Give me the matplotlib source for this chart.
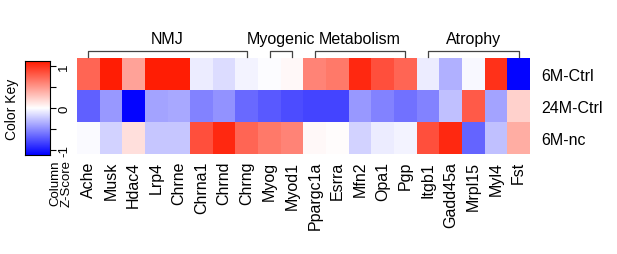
import numpy as np
import matplotlib
matplotlib.use("Agg")
import matplotlib.pyplot as plt
from matplotlib.colors import LinearSegmentedColormap, Normalize
from matplotlib.transforms import blended_transform_factory

plt.rcParams['font.family'] = ['Liberation Sans', 'DejaVu Sans']

# dados
genes = ["Ache", "Musk", "Hdac4", "Lrp4", "Chrne", "Chrna1", "Chrnd", "Chrng",
         "Myog", "Myod1", "Ppargc1a", "Esrra", "Mfn2", "Opa1", "Pgp",
         "Itgb1", "Gadd45a", "Mrpl15", "Myl4", "Fst"]
samples = ["6M-Ctrl", "24M-Ctrl", "6M-nc"]

z_6m_ctrl = [0.75, 1.1, 0.45, 1.1, 1.1, -0.08, -0.15, -0.05, -0.01, 0.03,
             0.6, 0.65, 1.05, 0.85, 0.75, -0.08, -0.35, -0.03, 1.0, -1.1]
z_24m_ctrl = [-0.7, -0.45, -1.1, -0.4, -0.38, -0.55, -0.48, -0.65, -0.72, -0.78,
              -0.82, -0.82, -0.45, -0.55, -0.62, -0.55, -0.28, 0.8, -0.4, 0.22]
z_6m_nc = [-0.02, -0.2, 0.15, -0.25, -0.25, 0.85, 1.05, 0.75, 0.65, 0.6,
           0.03, 0.01, -0.2, -0.08, -0.05, 0.85, 1.05, -0.68, -0.28, 0.4]

groups = [("NMJ", 0, 7), ("Myogenic", 8, 9), ("Metabolism", 10, 14), ("Atrophy", 15, 19)]

data = np.array([z_6m_ctrl, z_24m_ctrl, z_6m_nc])

cmap = LinearSegmentedColormap.from_list("bwr2", ["#0000ff", "#ffffff", "#ff1a00"])
norm = Normalize(vmin=-1.12, vmax=1.12)

W, H = 617, 255
fig = plt.figure(figsize=(W / 100, H / 100), dpi=100)

# heatmap
ax = fig.add_axes([77 / W, (H - 155) / H, (530 - 77) / W, 96 / H])
ax.imshow(data, cmap=cmap, norm=norm, aspect="auto")
ax.set_xticks(range(len(genes)))
ax.set_xticklabels(genes, rotation=90, fontsize=11.5)
ax.set_yticks(range(len(samples)))
ax.set_yticklabels(samples, fontsize=11.5)
ax.yaxis.tick_right()
ax.tick_params(length=0, pad=5)
ax.tick_params(axis="y", pad=8)
for s in ax.spines.values():
    s.set_visible(False)

# colchetes dos grupos
tr = blended_transform_factory(ax.transData, ax.transAxes)
for name, a, b in groups:
    ax.plot([a, a, b, b], [1.01, 1.073, 1.073, 1.01], color="#444444", lw=0.9,
            transform=tr, clip_on=False)
    ax.text((a + b) / 2, 1.2, name, transform=tr, ha="center", va="center", fontsize=11.5)

# color key
cax = fig.add_axes([25 / W, (H - 156) / H, 25 / W, 94 / H])
grad = np.linspace(-1.12, 1.12, 256).reshape(-1, 1)
cax.imshow(grad, cmap=cmap, norm=norm, aspect="auto", origin="lower",
           extent=[0, 1, -1.12, 1.12])
cax.set_xticks([])
cax.yaxis.tick_right()
cax.set_yticks([-1, -0.5, 0, 0.5, 1])
cax.set_yticklabels(["-1", "", "0", "", "1"], rotation=90, va="center", fontsize=9.5)
cax.tick_params(axis="y", length=4, pad=2)
cax.set_ylabel("Color Key", fontsize=10, labelpad=4)

fig.text(61 / W, (H - 160) / H, "Column\nZ-Score", rotation=90, ha="center", va="top",
         fontsize=9.5, linespacing=1.0)

fig.savefig("out.png", dpi=100)
